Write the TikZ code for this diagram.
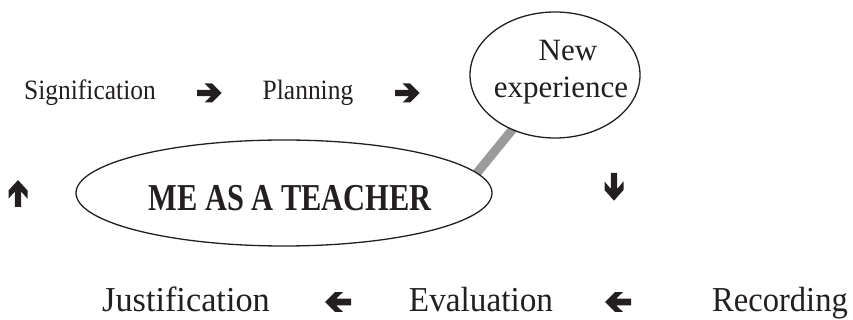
\documentclass[tikz,border=0pt]{standalone}
\usepackage{fontspec}
\setmainfont{Liberation Serif}
\usetikzlibrary{shapes.geometric,backgrounds}
\definecolor{ink}{HTML}{231F20}
\definecolor{bargray}{HTML}{9B9B9B}
% horizontally narrowed text
\newcommand\hsq[2]{\scalebox{#1}[1]{#2}}
\tikzset{
  toptext/.style={font=\fontsize{28}{30}\selectfont, text=ink, inner sep=0pt, anchor=base},
  lowtext/.style={font=\fontsize{35}{37}\selectfont, text=ink, inner sep=0pt, anchor=base},
  newtext/.style={font=\fontsize{31}{35}\selectfont, text=ink, inner sep=0pt, anchor=base},
  metext/.style={font=\fontsize{38}{40}\selectfont\bfseries, text=ink, inner sep=0pt, anchor=base},
  bubble/.style={ellipse, draw=ink, line width=1.3pt, fill=white, inner sep=0pt},
  barline/.style={draw=bargray, line width=9pt},
  heavyarrow/.pic={\fill[ink] (0,3.2) -- (14,3.2) -- (7.5,9.5) -- (15,9.5) -- (24.5,0)
     -- (15,-9.5) -- (7.5,-9.5) -- (14,-3.2) -- (0,-3.2) -- cycle;}
}
\begin{document}
\begin{tikzpicture}[x=1pt,y=-1pt]
\useasboundingbox (0,0) rectangle (853,320);

% top row
\node[toptext] (sig) at (90,100) {\hsq{0.91}{Signification}};
\pic at (197,93) {heavyarrow};
\node[toptext] (plan) at (308,100) {\hsq{0.91}{Planning}};
\pic at (395,93) {heavyarrow};

% the two ellipses
\node[bubble, minimum width=170pt, minimum height=126pt] (new) at (555,75) {};
\node[newtext] (newa) at (568,61) {New};
\node[newtext] (newb) at (561,98) {experience};

\node[bubble, minimum width=416pt, minimum height=106pt] (me) at (284,193) {};
\node[metext] (metxt) at (290,211) {\hsq{0.8}{ME AS A TEACHER}};

% grey link between the ellipses
\begin{scope}[on background layer]
\draw[barline, shorten <=-8pt, shorten >=-8pt] (me.6.7) -- (new.-128);
\end{scope}

% side arrows
\pic[rotate=90, xscale=1.1] at (18,207) {heavyarrow};
\pic[rotate=-90, xscale=1.13] at (614,173) {heavyarrow};

% bottom row
\node[lowtext] (just) at (186,311) {\hsq{0.98}{Justification}};
\pic[rotate=180, xscale=1.06, yscale=1.05] at (351,302) {heavyarrow};
\node[lowtext] (eval) at (481,311) {\hsq{0.95}{Evaluation}};
\pic[rotate=180, xscale=1.06, yscale=1.05] at (631,302) {heavyarrow};
\node[lowtext] (rec) at (780,311) {\hsq{0.93}{Recording}};
\end{tikzpicture}
\end{document}
